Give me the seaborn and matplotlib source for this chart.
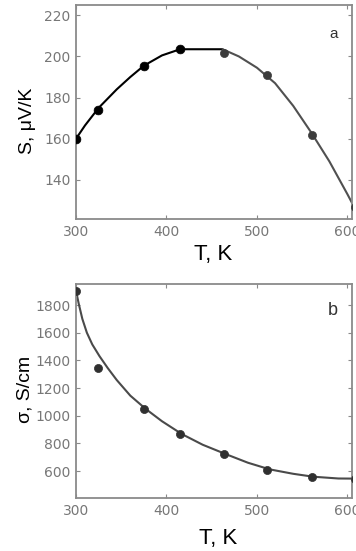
import matplotlib
matplotlib.use("Agg")
import matplotlib.pyplot as plt
import seaborn as sns

# ---- data ----
T_pts = [300, 324, 375, 415, 463, 511, 561, 608]
S_pts = [160, 174, 195.5, 203.5, 201.5, 191, 162, 127]
sigma_pts = [1903, 1347, 1049, 867, 721, 610, 557, 540]

# fitted curve, panel a (left, black part and right, gray part)
T_fit_a1 = [300, 310, 325, 345, 360, 375, 395, 415, 440, 462]
S_fit_a1 = [160, 166.5, 175, 184, 190, 195.5, 200.5, 203.5, 203.5, 203.5]
T_fit_a2 = [462, 480, 500, 520, 540, 560, 580, 600, 612]
S_fit_a2 = [203.5, 200, 194.5, 187, 176, 163, 149, 133, 123]

# fitted curve, panel b
T_fit_b = [300, 303, 307, 312, 318, 326, 335, 345, 360, 377, 395, 417, 440, 466, 490, 514, 540, 562, 590, 612]
sigma_fit_b = [1903, 1810, 1700, 1600, 1515, 1430, 1345, 1258, 1145, 1049, 960, 867, 790, 721, 660, 612, 580, 559, 546, 545]

x_ticks = [300, 400, 500, 600]
S_ticks = [140, 160, 180, 200, 220]
sigma_ticks = [600, 800, 1000, 1200, 1400, 1600, 1800]

sns.set_style("ticks")
plt.rcParams['font.family'] = ['DejaVu Sans']

W, H = 356, 551
fig = plt.figure(figsize=(W / 100, H / 100), dpi=100)
ax_a = fig.add_axes([76 / W, 1 - 219 / H, 276 / W, 214 / H])
ax_b = fig.add_axes([76 / W, 1 - 498 / H, 276 / W, 214 / H])

spine_col = "#8a8a8a"
tick_col = "#777777"

# panel a
sns.lineplot(x=T_fit_a1, y=S_fit_a1, ax=ax_a, color="black", lw=1.5, sort=False, estimator=None)
sns.lineplot(x=T_fit_a2, y=S_fit_a2, ax=ax_a, color="#505050", lw=1.5, sort=False, estimator=None)
sns.scatterplot(x=T_pts[:4], y=S_pts[:4], ax=ax_a, color="black", s=40, edgecolor="black", linewidth=0.5, zorder=5)
sns.scatterplot(x=T_pts[4:], y=S_pts[4:], ax=ax_a, color="#3c3c3c", s=34, edgecolor="#3c3c3c", linewidth=0.5, zorder=5)
ax_a.set_xlim(300, 605)
ax_a.set_ylim(121, 225)
ax_a.set_yticks(S_ticks)
ax_a.set_xticks(x_ticks)

# panel b
sns.lineplot(x=T_fit_b, y=sigma_fit_b, ax=ax_b, color="#4a4a4a", lw=1.5, sort=False, estimator=None)
sns.scatterplot(x=T_pts, y=sigma_pts, ax=ax_b, color="#303030", s=34, edgecolor="#303030", linewidth=0.5, zorder=5)
ax_b.set_xlim(300, 605)
ax_b.set_ylim(405, 1952)
ax_b.set_yticks(sigma_ticks)
ax_b.set_xticks(x_ticks)

label_font = dict(family=["Liberation Sans", "DejaVu Sans"], color="black")
for ax in (ax_a, ax_b):
    for sp in ax.spines.values():
        sp.set_color(spine_col)
        sp.set_linewidth(1.3)
        sp.set_visible(True)
    ax.tick_params(direction="in", top=True, right=True, length=3, width=0.8,
                   color=spine_col, labelcolor=tick_col, labelsize=10, pad=4)
    ax.set_xlabel("T, K", fontsize=16, **label_font)

ax_a.set_ylabel("S, \u03bcV/K", fontsize=14, **label_font)
ax_b.set_ylabel("\u03c3, S/cm", fontsize=14, **label_font)
ax_a.xaxis.set_label_coords(0.496, -0.115)
ax_b.xaxis.set_label_coords(0.514, -0.14)
ax_a.yaxis.set_label_coords(-0.145, 0.46)
ax_b.yaxis.set_label_coords(-0.155, 0.505)

ax_a.text(0.935, 0.864, "a", transform=ax_a.transAxes, ha="center", va="center",
          fontsize=11, color="#333333", family=["Liberation Sans", "DejaVu Sans"])
ax_b.text(0.931, 0.878, "b", transform=ax_b.transAxes, ha="center", va="center",
          fontsize=13, color="#333333", family=["Liberation Sans", "DejaVu Sans"])

fig.savefig("out.png", dpi=100, facecolor="white")
